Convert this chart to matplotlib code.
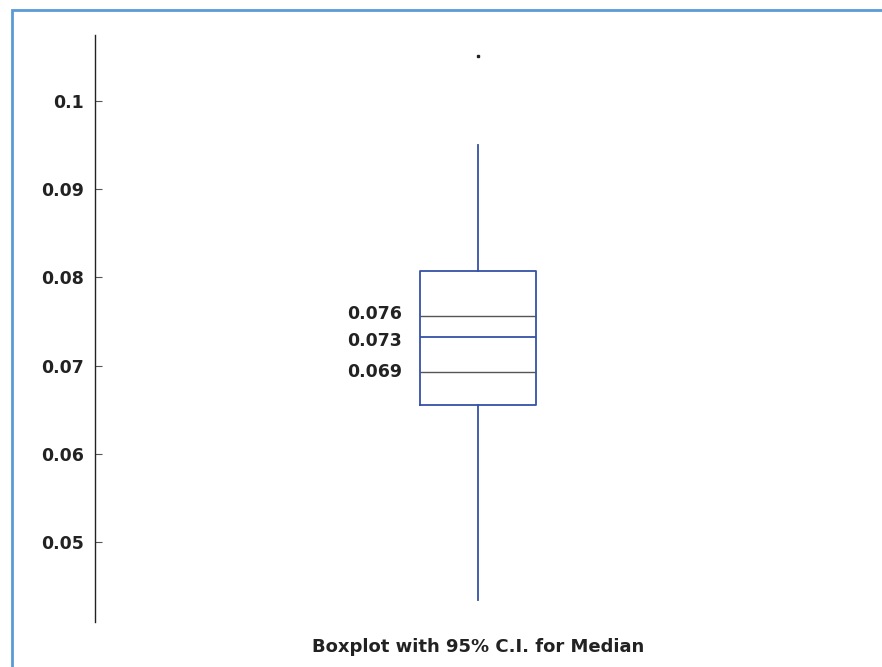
import matplotlib.pyplot as plt
from matplotlib.patches import Rectangle

# values
q1 = 0.0655
q3 = 0.0807
median = 0.0732
ci_low = 0.0693
ci_high = 0.0756
whisker_low = 0.0434
whisker_high = 0.0950
outliers = [0.1051]
ci_labels = ["0.076", "0.073", "0.069"]
ci_values = [ci_high, median, ci_low]
yticks = [0.05, 0.06, 0.07, 0.08, 0.09, 0.1]
ytick_labels = ["0.05", "0.06", "0.07", "0.08", "0.09", "0.1"]
title = "Boxplot with 95% C.I. for Median"

blue = "#3552a8"

fig = plt.figure(figsize=(8.82, 6.67), dpi=100)
ax = fig.add_axes([95 / 882, 45 / 667, 766 / 882, 587 / 667])

# frame around the figure (runs off the right and bottom edges)
fig.patches.append(Rectangle((12 / 882, -0.1), 1.2, 657 / 667 + 0.1,
                             transform=fig.transFigure, fill=False,
                             edgecolor="#5b9bd5", linewidth=2))

stats = [dict(med=median, q1=q1, q3=q3, whislo=whisker_low, whishi=whisker_high,
              fliers=outliers)]
box_w = 116 / 766
ax.bxp(stats, positions=[1], widths=box_w, showcaps=False,
       boxprops=dict(color=blue, linewidth=1.3),
       whiskerprops=dict(color=blue, linewidth=1.3),
       medianprops=dict(color=blue, linewidth=1.3),
       flierprops=dict(marker="s", markersize=1.8, markerfacecolor="#222222",
                       markeredgecolor="#222222"))

ax.hlines([ci_low, ci_high], 1 - box_w / 2, 1 + box_w / 2, color="#555555", linewidth=1.0)

# labels nudged apart a little, like the original
nudges = [1.5, -2.5, 0]
for lab, v, dy in zip(ci_labels, ci_values, nudges):
    ax.annotate(lab, (1 - box_w / 2, v), xytext=(-13, dy), textcoords="offset points",
                ha="right", va="center", fontsize=12.5, fontweight="bold", color="#222222")

ax.set_xlim(0.5, 1.5)
ax.set_ylim(0.04093, 0.10748)
ax.set_yticks(yticks)
ax.set_yticklabels(ytick_labels, fontsize=12.5, fontweight="bold", color="#222222")
ax.set_xticks([])
ax.tick_params(axis="y", direction="in", length=5, width=0.8, pad=8, color="#555555")
for s in ["top", "right", "bottom"]:
    ax.spines[s].set_visible(False)
ax.spines["left"].set_linewidth(1.0)
ax.spines["left"].set_color("#222222")

fig.text(478 / 882, 1 - 647 / 667, title, ha="center", va="center",
         fontsize=13, fontweight="bold", color="#222222")

fig.savefig("out.png", dpi=100)
